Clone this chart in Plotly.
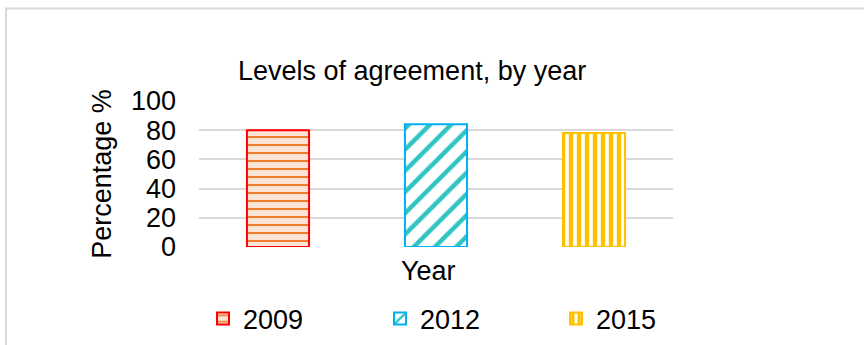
import plotly.graph_objects as go

# Data
category = ["Year"]
years = ["2009", "2012", "2015"]
agreement = [80, 84, 78]

# Per-series styling
edge_colors = ["#ff0000", "#00b0f0", "#ffc000"]
pattern_fg = ["#ed7d31", "#2fc4c4", "#ffc000"]
pattern_bg = ["#fbe4d5", "#ffffff", "#ffffff"]
pattern_shape = ["-", "/", "|"]
pattern_size = [8, 15, 8]
pattern_solid = [0.25, 0.3, 0.55]

W, H = 864, 345
L, R, T, B = 199, 191, 101, 98
pw, ph = W - L - R, H - T - B


def px_x(x):
    return (x - L) / pw


def px_y(y):
    return (H - B - y) / ph


FONT = "Liberation Sans, Arial, sans-serif"
FS = 27

# one legend box per series, spread across the bottom
legend_names = ["legend", "legend2", "legend3"]
legend_left_px = [203, 380, 556]

fig = go.Figure()
for i, yr in enumerate(years):
    fig.add_trace(go.Bar(
        name=yr,
        x=category,
        y=[agreement[i]],
        legend=legend_names[i],
        marker=dict(
            color=pattern_bg[i],
            line=dict(color=edge_colors[i], width=2),
            pattern=dict(
                shape=pattern_shape[i],
                fgcolor=pattern_fg[i],
                bgcolor=pattern_bg[i],
                size=pattern_size[i],
                solidity=pattern_solid[i],
                fillmode="replace",
            ),
        ),
    ))

legend_style = dict(
    orientation="h",
    xref="container", yref="container",
    xanchor="left",
    y=(H - 319) / H, yanchor="middle",
    font=dict(size=FS),
    bgcolor="rgba(0,0,0,0)",
)
legends = {
    name: dict(legend_style, x=legend_left_px[i] / W)
    for i, name in enumerate(legend_names)
}

fig.update_layout(
    width=W, height=H,
    margin=dict(l=L, r=R, t=T, b=B, autoexpand=False),
    paper_bgcolor="white",
    plot_bgcolor="white",
    font=dict(family=FONT, size=FS, color="#000000"),
    barmode="group",
    bargap=0.0,
    bargroupgap=0.607,
    showlegend=True,
    **legends,
    xaxis=dict(
        showticklabels=False,
        showgrid=False,
        zeroline=False,
        ticks="",
    ),
    yaxis=dict(
        range=[0, 100],
        tickvals=[0, 20, 40, 60, 80, 100],
        showgrid=True,
        gridcolor="#d9d9d9",
        gridwidth=1.5,
        zeroline=False,
        ticks="",
        ticklabelstandoff=22,
        tickfont=dict(size=FS),
        title=dict(text="Percentage %", standoff=11, font=dict(size=FS)),
    ),
)

shapes = [
    # title box background sitting over the top gridline
    dict(type="rect", xref="paper", yref="paper",
         x0=px_x(215), x1=px_x(700), y0=px_y(96), y1=px_y(106),
         fillcolor="white", line=dict(width=0), layer="above"),
    # chart-area border
    dict(type="rect", xref="paper", yref="paper",
         x0=px_x(6), x1=px_x(880), y0=px_y(8.5), y1=px_y(360),
         fillcolor="rgba(0,0,0,0)", line=dict(color="#d9d9d9", width=2),
         layer="below"),
]
fig.update_layout(shapes=shapes)

fig.add_annotation(
    text="Levels of agreement, by year",
    xref="paper", yref="paper",
    x=px_x(411.7), y=px_y(71), xanchor="center", yanchor="middle",
    showarrow=False, font=dict(size=FS, family=FONT, color="#000000"),
)
# horizontal axis title
fig.add_annotation(
    text=category[0],
    xref="paper", yref="paper",
    x=px_x(428), y=px_y(270.5), xanchor="center", yanchor="middle",
    showarrow=False, font=dict(size=FS, family=FONT, color="#000000"),
)

fig.write_html("out.html")
